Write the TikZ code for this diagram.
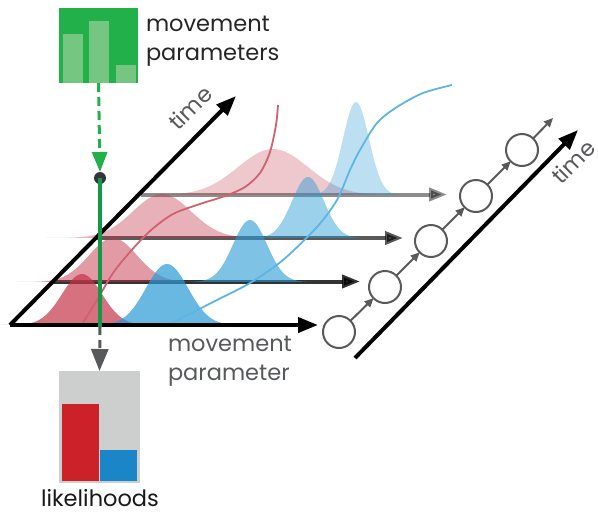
\documentclass[tikz,border=0pt]{standalone}
\usepackage{fontspec}
\setmainfont{Poppins}
\usepackage{xcolor}
\usetikzlibrary{arrows.meta,positioning}

\definecolor{boxgreen}{RGB}{34,176,75}
\definecolor{barlight}{RGB}{116,198,128}
\definecolor{linegreen}{RGB}{16,154,72}
\definecolor{knobgray}{RGB}{51,53,56}
\definecolor{midgray}{RGB}{88,89,91}
\definecolor{boxgray}{RGB}{205,206,206}
\definecolor{barred}{RGB}{205,33,41}
\definecolor{barblue}{RGB}{26,134,200}
\definecolor{pdfred}{RGB}{196,52,72}
\definecolor{pdfblue}{RGB}{40,154,214}
\definecolor{curvered}{RGB}{208,97,111}
\definecolor{curveblue}{RGB}{93,181,227}

% base line, centre, height, sigma, style
\newcommand{\density}[5]{%
  \fill[#5] plot[domain=#2-4*#4:#2+4*#4, samples=80]
    (\x, {#1-#3*exp(-0.5*((\x-#2)/#4)^2)}) -- cycle;}

\begin{document}
\begin{tikzpicture}[x=1pt, y=-1pt,
  every node/.style={inner sep=0pt, outer sep=0pt},
  caption/.style={font=\fontsize{22.5}{29}\selectfont, align=left},
  axis/.style={line width=4pt, line join=round, -{Triangle[length=20pt,width=15pt]}},
  slice/.style={line width=4pt, draw=black, opacity=#1, -{Triangle[length=18pt,width=13pt]}},
  latent/.style={draw=midgray, line width=2pt, circle, minimum size=32pt},
  chain/.style={draw=midgray, line width=2pt, -{Triangle[length=9pt,width=8pt]}},
  reddens/.style={fill=pdfred, opacity=#1},
  bluedens/.style={fill=pdfblue, opacity=#1}
]
\useasboundingbox (0,0) rectangle (598,512);

% slices of the movement parameter over time, back to front
\coordinate (o0) at (10,325);
\coordinate (o1) at (53.5,281.5);
\coordinate (o2) at (97,238);
\coordinate (o3) at (140.5,194.5);
\coordinate (e1) at (360,281.5);
\coordinate (e2) at (403,238);
\coordinate (e3) at (447,194.5);

\draw[slice=.45] (o3) -- (e3);
\density{195}{273}{46}{35}{reddens=.27}
\density{195}{356}{93}{13}{bluedens=.31}

\draw[slice=.65] (o2) -- (e2);
\density{238}{162}{44}{29}{reddens=.39}
\density{238}{308}{61}{16}{bluedens=.46}

\draw[slice=.8] (o1) -- (e1);
\density{282}{113}{44}{24}{reddens=.49}
\density{282}{250}{62}{17}{bluedens=.6}

\density{325}{82}{51}{20}{reddens=.7}
\density{325}{167}{61}{21}{bluedens=.7}

% trajectories
\draw[curvered, line width=1.8pt] plot[smooth] coordinates {(81,326) (97,300) (113,273)
  (130,252) (150,231) (173,214) (200,204) (225,196) (245,187) (260,173) (270,152)
  (276,125) (278,105)};
\draw[curveblue, line width=1.8pt] plot[smooth] coordinates {(168,325) (217,300)
  (250,283) (283,260) (317,227) (337,200) (350,170) (360,150) (377,123) (397,107)
  (423,93) (452,85)};

% axes
\coordinate (timetip) at (236,96);
\coordinate (paramtip) at (318,325);
\draw[axis] (o0) -- (paramtip);
\draw[axis] (o0) -- (timetip);
\node[caption, text=midgray, rotate=45] (timelabel) at (190,108) {time};
\node[caption, text=midgray, anchor=north west] (paramlabel) at (168,336) {movement\\parameter};

% movement parameters
\node[fill=boxgreen, minimum width=79pt, minimum height=75pt] (params) at (98.5,45.5) {};
\fill[barlight] (63,83) rectangle (83,34);
\fill[barlight] (89,83) rectangle (109,21);
\fill[barlight] (116,83) rectangle (136,65);
\node[caption, text=black!85, anchor=north west] (paramstext) at (146,16) {movement\\parameters};

\node[circle, fill=knobgray, minimum size=12pt] (knob) at (100,178) {};
\draw[boxgreen, line width=3pt, dash pattern=on 9pt off 5pt,
  -{Triangle[length=20pt,width=15pt]}] (params.south) -- (knob.north);
\coordinate (hit) at (100,327);
\draw[linegreen, line width=4pt] (knob.center) -- (hit);

% likelihoods
\node[fill=boxgray, minimum width=81pt, minimum height=112pt] (lik) at (99.5,427) {};
\fill[barred] (62,481) rectangle (99,404);
\fill[barblue] (100,481) rectangle (137,450);
\draw[midgray, line width=3pt, dash pattern=on 8pt off 5pt,
  -{Triangle[length=22pt,width=17pt]}] (hit) -- (lik.north);
\node[caption, text=black!90, anchor=base] (liklabel) at (100,506) {likelihoods};

% hidden chain
\node[latent] (s1) at (339,332) {};
\node[latent] (s2) at (385,287) {};
\node[latent] (s3) at (431,241) {};
\node[latent] (s4) at (476,196) {};
\node[latent] (s5) at (522,150) {};
\coordinate (s6) at (553,118);
\draw[chain] (s1) -- (s2);
\draw[chain] (s2) -- (s3);
\draw[chain] (s3) -- (s4);
\draw[chain] (s4) -- (s5);
\draw[chain] (s5) -- (s6);

\coordinate (tstart) at (355,358);
\coordinate (tend) at (578,130);
\draw[axis] (tstart) -- (tend);
\node[caption, text=midgray, rotate=45] (timelabel2) at (573,162) {time};
\end{tikzpicture}
\end{document}
